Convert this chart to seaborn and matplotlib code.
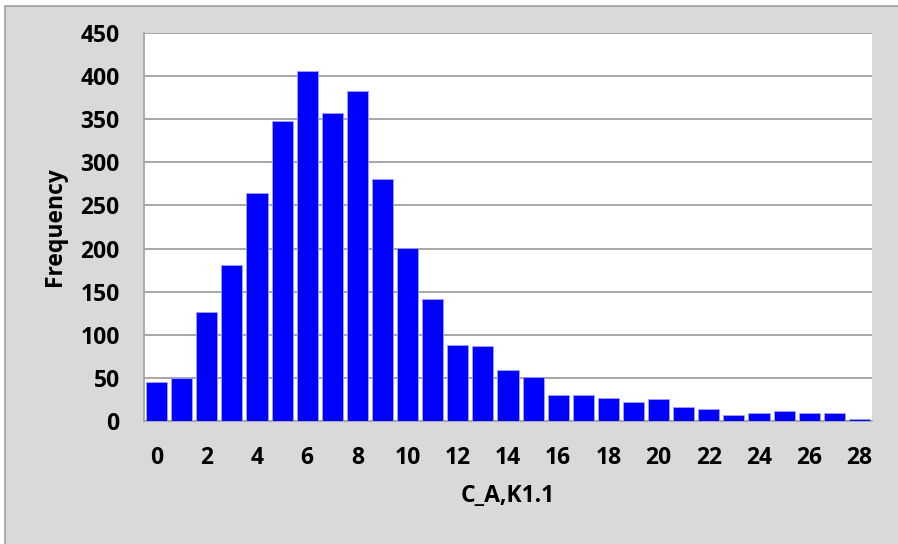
import numpy as np
import pandas as pd
import matplotlib
matplotlib.use("Agg")
import matplotlib.pyplot as plt
import seaborn as sns
from matplotlib.patches import Rectangle

bins = list(range(0, 29))
frequency = [45, 50, 126, 181, 265, 348, 406, 357, 383, 281, 201, 142, 88, 87,
             59, 51, 30, 30, 27, 22, 26, 16, 14, 7, 9, 12, 9, 9, 2]
x_tick_labels = [str(v) for v in range(0, 29, 2)]
y_ticks = list(range(0, 451, 50))

sns.set_style("white")
plt.rcParams['font.family'] = ['Open Sans', 'DejaVu Sans']
plt.rcParams['text.color'] = 'black'
plt.rcParams['axes.labelcolor'] = 'black'

fig = plt.figure(figsize=(8.98, 5.44), dpi=100, facecolor='white')
# chart area background with border
bg = Rectangle((4.5 / 898, -0.05), 1.2, 1 - 5.5 / 544 + 0.05, transform=fig.transFigure,
               facecolor='#D9D9D9', edgecolor='#A0A0A0', linewidth=1.2, zorder=-10)
fig.patches.append(bg)

ax = fig.add_axes([144 / 898, 1 - 421 / 544, (872 - 144) / 898, (421 - 33) / 544])
ax.set_zorder(1)
ax.set_facecolor('white')

df = pd.DataFrame({'bin': bins, 'freq': frequency})
sns.barplot(data=df, x='bin', y='freq', color='#0000FF', saturation=1, width=0.84,
            edgecolor='#A0A0FF', linewidth=0.6, ax=ax, zorder=3)

fs = 16.5
ax.set_xlim(-0.5, 28.5)
ax.set_ylim(0, 450)
ax.set_yticks(y_ticks)
ax.set_yticklabels([str(v) for v in y_ticks], fontsize=fs, fontweight='bold', color='black')
ax.set_xticks(list(range(0, 29, 2)))
ax.set_xticklabels(x_tick_labels, fontsize=fs, fontweight='bold', color='black')
ax.set_xticks(np.arange(-0.5, 29, 1), minor=True)
ax.tick_params(axis='x', which='major', length=0, pad=18)
ax.tick_params(axis='x', which='minor', length=6.5, width=1.2, color='#A0A0A0', direction='out')
ax.tick_params(axis='y', which='major', length=6.5, width=1.2, color='#A0A0A0', direction='out', pad=11)

ax.grid(axis='y', color='#A0A0A0', linewidth=1.3, zorder=0)
ax.set_axisbelow(True)
for s in ['top', 'right']:
    ax.spines[s].set_visible(False)
for s in ['left', 'bottom']:
    ax.spines[s].set_color('#A0A0A0')
    ax.spines[s].set_linewidth(1.2)

ax.set_xlabel('C_A,K1.1', fontsize=fs, fontweight='bold', color='black')
ax.set_ylabel('Frequency', fontsize=fs, fontweight='bold', color='black')
ax.xaxis.set_label_coords(0.5, -0.163)
ax.yaxis.set_label_coords(-0.106, 0.5)

fig.savefig('out.png', dpi=100, facecolor=fig.get_facecolor())
